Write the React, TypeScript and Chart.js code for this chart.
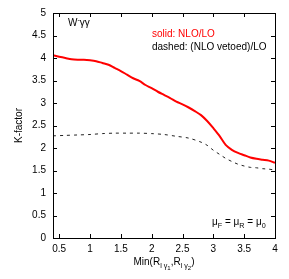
import React, { useEffect, useRef } from "react";
import { Chart, registerables } from "chart.js";

Chart.register(...registerables);

const xNLO = [0.4, 0.5, 0.6, 0.7, 0.8, 0.9, 1.0, 1.1, 1.2, 1.3, 1.4, 1.5, 1.6, 1.7, 1.8, 1.9, 2.0, 2.1, 2.2, 2.3, 2.4, 2.5, 2.6, 2.7, 2.8, 2.9, 3.0, 3.1, 3.2, 3.3, 3.4, 3.5, 3.6, 3.7, 3.8, 3.9, 4.0];
const kNLO = [4.06, 4.03, 4.0, 3.97, 3.96, 3.96, 3.95, 3.93, 3.89, 3.85, 3.78, 3.71, 3.63, 3.55, 3.49, 3.4, 3.33, 3.25, 3.18, 3.11, 3.03, 2.97, 2.9, 2.82, 2.73, 2.6, 2.44, 2.27, 2.07, 1.96, 1.89, 1.84, 1.79, 1.76, 1.74, 1.72, 1.67];

const xVeto = [0.4, 0.6, 0.8, 1.0, 1.2, 1.4, 1.6, 1.8, 2.0, 2.2, 2.4, 2.6, 2.8, 2.9, 3.0, 3.1, 3.2, 3.3, 3.4, 3.5, 3.6, 3.7, 3.8, 3.9, 4.0];
const kVeto = [2.27, 2.28, 2.29, 2.3, 2.32, 2.33, 2.33, 2.33, 2.32, 2.3, 2.26, 2.22, 2.13, 2.06, 1.95, 1.86, 1.77, 1.7, 1.64, 1.6, 1.57, 1.56, 1.54, 1.53, 1.51];

const xTicks = [0.5, 1, 1.5, 2, 2.5, 3, 3.5, 4];
const yTicks = [0, 0.5, 1, 1.5, 2, 2.5, 3, 3.5, 4, 4.5, 5];

const FONT = '"Liberation Sans", Arial, Helvetica, sans-serif';

type Seg = { t: string; s?: "sub" | "sub2" | "sup" };

function drawRich(ctx: CanvasRenderingContext2D, x: number, y: number, segs: Seg[], size: number, color: string) {
  ctx.save();
  ctx.fillStyle = color;
  ctx.textBaseline = "alphabetic";
  ctx.textAlign = "left";
  let cx = x;
  for (const seg of segs) {
    let fs = size;
    let dy = 0;
    if (seg.s === "sub") { fs = size * 0.72; dy = size * 0.3; }
    if (seg.s === "sub2") { fs = size * 0.6; dy = size * 0.5; }
    if (seg.s === "sup") { fs = size * 0.72; dy = -size * 0.4; }
    ctx.font = `${fs}px ${FONT}`;
    ctx.fillText(seg.t, cx, y + dy);
    cx += ctx.measureText(seg.t).width;
  }
  ctx.restore();
  return cx - x;
}

function measureRich(ctx: CanvasRenderingContext2D, segs: Seg[], size: number) {
  ctx.save();
  let w = 0;
  for (const seg of segs) {
    let fs = size;
    if (seg.s === "sub" || seg.s === "sup") fs = size * 0.72;
    if (seg.s === "sub2") fs = size * 0.6;
    ctx.font = `${fs}px ${FONT}`;
    w += ctx.measureText(seg.t).width;
  }
  ctx.restore();
  return w;
}

const framePlugin = {
  id: "frame",
  afterDraw(chart: any) {
    const { ctx, chartArea: a, scales } = chart;
    const xs = scales.x;
    const ys = scales.y;
    ctx.save();
    ctx.strokeStyle = "#000";
    ctx.lineWidth = 1;
    ctx.strokeRect(Math.round(a.left) + 0.5, Math.round(a.top) + 0.5, Math.round(a.right - a.left), Math.round(a.bottom - a.top));
    const tl = 4;
    ctx.beginPath();
    for (const v of xTicks) {
      const px = Math.round(xs.getPixelForValue(v)) + 0.5;
      ctx.moveTo(px, a.bottom);
      ctx.lineTo(px, a.bottom - tl);
      ctx.moveTo(px, a.top);
      ctx.lineTo(px, a.top + tl);
    }
    for (const v of yTicks) {
      const py = Math.round(ys.getPixelForValue(v)) + 0.5;
      ctx.moveTo(a.left, py);
      ctx.lineTo(a.left + tl, py);
      ctx.moveTo(a.right, py);
      ctx.lineTo(a.right - tl, py);
    }
    ctx.stroke();

    // in-plot labels
    drawRich(ctx, 68, 26, [{ t: "W" }, { t: "-", s: "sup" }, { t: "γγ" }], 10, "#000");
    drawRich(ctx, 152, 37, [{ t: "solid: NLO/LO" }], 10, "#ff0000");
    drawRich(ctx, 152, 50, [{ t: "dashed: (NLO vetoed)/LO" }], 10, "#000");
    drawRich(ctx, 212, 225, [
      { t: "μ" }, { t: "F", s: "sub" }, { t: " = μ" }, { t: "R", s: "sub" }, { t: " = μ" }, { t: "0", s: "sub" },
    ], 10, "#000");

    // x title
    const xt: Seg[] = [
      { t: "Min(R" }, { t: "l γ", s: "sub" }, { t: "1", s: "sub2" }, { t: ",R" }, { t: "l γ", s: "sub" }, { t: "2", s: "sub2" }, { t: ")" },
    ];
    const w = measureRich(ctx, xt, 10);
    drawRich(ctx, (a.left + a.right) / 2 - w / 2, 265, xt, 10, "#000");

    // y title
    ctx.save();
    ctx.translate(22, (a.top + a.bottom) / 2);
    ctx.rotate(-Math.PI / 2);
    ctx.font = `10px ${FONT}`;
    ctx.fillStyle = "#000";
    ctx.textAlign = "center";
    ctx.textBaseline = "alphabetic";
    ctx.fillText("K-factor", 0, 0);
    ctx.restore();

    ctx.restore();
  },
};

export default function App() {
  const ref = useRef<HTMLCanvasElement | null>(null);
  useEffect(() => {
    document.body.style.margin = "0";
    const canvas = ref.current;
    if (!canvas) return;
    const chart = new Chart(canvas, {
      type: "line",
      data: {
        datasets: [
          {
            label: "NLO/LO",
            data: xNLO.map((x, i) => ({ x, y: kNLO[i] })),
            borderColor: "#ff0000",
            borderWidth: 2,
            pointRadius: 0,
            tension: 0.3,
            fill: false,
          },
          {
            label: "(NLO vetoed)/LO",
            data: xVeto.map((x, i) => ({ x, y: kVeto[i] })),
            borderColor: "#222",
            borderWidth: 1,
            borderDash: [3, 4],
            pointRadius: 0,
            tension: 0.3,
            fill: false,
          },
        ],
      },
      options: {
        responsive: false,
        animation: false,
        layout: { padding: { top: 11, right: 14, left: 0, bottom: 0 } },
        plugins: { legend: { display: false }, tooltip: { enabled: false } },
        scales: {
          x: {
            type: "linear",
            min: 0.4,
            max: 4,
            grid: { display: false, drawTicks: false },
            border: { display: false },
            afterBuildTicks: (s: any) => { s.ticks = xTicks.map((v) => ({ value: v })); },
            afterFit: (s: any) => { s.height = 41; },
            ticks: {
              padding: 5,
              maxRotation: 0,
              autoSkip: false,
              color: "#000",
              font: { family: FONT, size: 10 },
              callback: (v: any) => String(v),
            },
          },
          y: {
            type: "linear",
            min: 0,
            max: 5,
            grid: { display: false, drawTicks: false },
            border: { display: false },
            afterBuildTicks: (s: any) => { s.ticks = yTicks.map((v) => ({ value: v })); },
            afterFit: (s: any) => { s.width = 53; },
            ticks: {
              padding: 7,
              autoSkip: false,
              color: "#000",
              font: { family: FONT, size: 10 },
              callback: (v: any) => String(v),
            },
          },
        },
      },
      plugins: [framePlugin],
    });
    return () => chart.destroy();
  }, []);
  return <canvas ref={ref} width={289} height={279} style={{ display: "block" }} />;
}
